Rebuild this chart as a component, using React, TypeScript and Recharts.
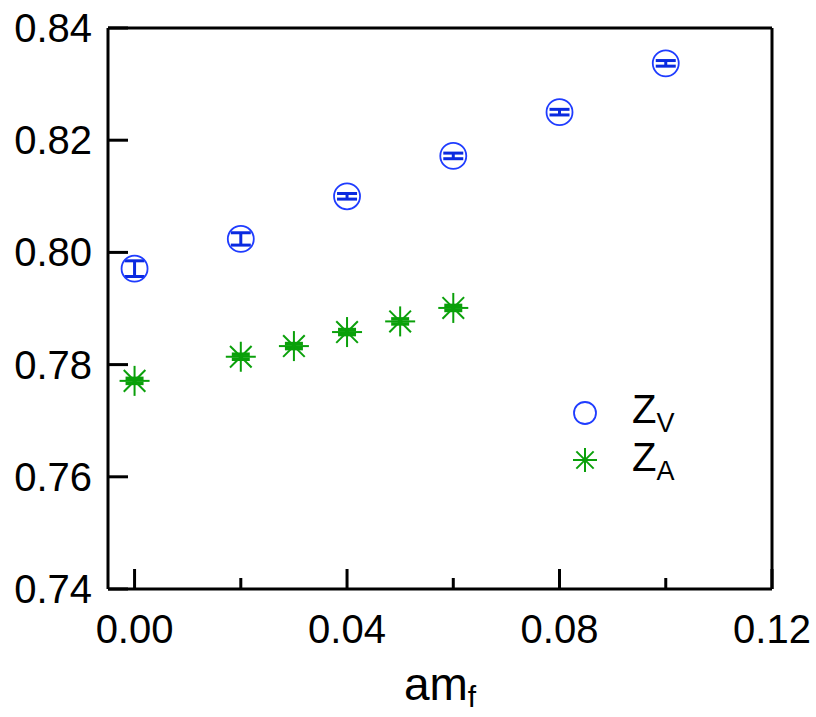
import { ErrorBar, ReferenceLine, Scatter, ScatterChart, XAxis, YAxis } from "recharts";

// Z_V (circles)
const zvX = [0, 0.02, 0.04, 0.06, 0.08, 0.1];
const zvY = [0.7971, 0.8024, 0.81, 0.8172, 0.825, 0.8337];
const zvErr = [0.0014, 0.0011, 0.0005, 0.0005, 0.0005, 0.0005];

// Z_A (stars)
const zaX = [0, 0.02, 0.03, 0.04, 0.05, 0.06];
const zaY = [0.7771, 0.7814, 0.7833, 0.7858, 0.7877, 0.7901];
const zaErr = [0.00045, 0.00045, 0.00045, 0.00045, 0.00045, 0.00045];

const xTicks = [0, 0.02, 0.04, 0.06, 0.08, 0.1, 0.12];
const xMajor = ["0.00", "0.04", "0.08", "0.12"];
const yTicks = [0.74, 0.76, 0.78, 0.8, 0.82, 0.84];
const yLabels = ["0.74", "0.76", "0.78", "0.80", "0.82", "0.84"];

const zvData = zvX.map((x, i) => ({ x, y: zvY[i], err: zvErr[i] }));
const zaData = zaX.map((x, i) => ({ x, y: zaY[i], err: zaErr[i] }));

const FONT = "'Liberation Sans', Arial, Helvetica, sans-serif";
const BLUE = "#1f3cff";
const GREEN = "#0aa00a";

const CircleMark = ({ cx, cy }: any) => (
  <circle cx={cx} cy={cy} r={13} fill="none" stroke={BLUE} strokeWidth={1.8} />
);

const StarMark = ({ cx, cy, s }: any) => {
  const r = s ?? 15;
  const d = r * 0.72;
  return (
    <g stroke={GREEN} strokeWidth={2}>
      <line x1={cx - r} y1={cy} x2={cx + r} y2={cy} />
      <line x1={cx} y1={cy - r} x2={cx} y2={cy + r} />
      <line x1={cx - d} y1={cy - d} x2={cx + d} y2={cy + d} />
      <line x1={cx - d} y1={cy + d} x2={cx + d} y2={cy - d} />
    </g>
  );
};

const XTick = ({ x, y, payload }: any) => {
  const label = xMajor.find((l) => Math.abs(parseFloat(l) - payload.value) < 1e-9);
  return (
    <g>
      <line x1={x} y1={y} x2={x} y2={y - (label ? 20 : 11)} stroke="#000" strokeWidth={3} />
      {label && (
        <text x={x} y={y + 54} textAnchor="middle" fontSize={40} fontFamily={FONT} fill="#000">
          {label}
        </text>
      )}
    </g>
  );
};

const YTick = ({ x, y, payload }: any) => {
  const idx = yTicks.findIndex((v) => Math.abs(v - payload.value) < 1e-9);
  return (
    <g>
      <line x1={x} y1={y} x2={x + 20} y2={y} stroke="#000" strokeWidth={3} />
      <text x={x - 16} y={y + 14} textAnchor="end" fontSize={40} fontFamily={FONT} fill="#000">
        {yLabels[idx]}
      </text>
    </g>
  );
};

export default function App() {
  return (
    <div style={{ position: "absolute", left: 0, top: 0, background: "#fff" }}>
      <ScatterChart width={816} height={717} margin={{ top: 28, right: 44, bottom: 0, left: 0 }}>
        <XAxis
          type="number"
          dataKey="x"
          domain={[-0.005, 0.12]}
          ticks={xTicks}
          allowDataOverflow
          height={128}
          tickSize={0}
          tickMargin={0}
          tickLine={false}
          axisLine={{ stroke: "#000", strokeWidth: 3 }}
          tick={<XTick />}
          interval={0}
        />
        <YAxis
          type="number"
          dataKey="y"
          domain={[0.74, 0.84]}
          ticks={yTicks}
          allowDataOverflow
          width={108}
          tickSize={0}
          tickMargin={0}
          tickLine={false}
          axisLine={{ stroke: "#000", strokeWidth: 3 }}
          tick={<YTick />}
          interval={0}
        />
        <ReferenceLine y={0.84} stroke="#000" strokeWidth={3} />
        <ReferenceLine x={0.12} stroke="#000" strokeWidth={3} />
        <Scatter data={zvData} shape={<CircleMark />} isAnimationActive={false}>
          <ErrorBar dataKey="err" direction="y" width={10} stroke="#0a2ae0" strokeWidth={3} />
        </Scatter>
        <Scatter data={zaData} shape={<StarMark />} isAnimationActive={false}>
          <ErrorBar dataKey="err" direction="y" width={9} stroke={GREEN} strokeWidth={3.5} />
        </Scatter>
        <g fontFamily={FONT} fill="#000">
          <circle cx={585} cy={413} r={11} fill="none" stroke={BLUE} strokeWidth={1.8} />
          <text x={632} y={423} fontSize={40}>
            Z<tspan fontSize={27} dy={9}>V</tspan>
          </text>
          <StarMark cx={585} cy={460} s={12} />
          <text x={632} y={471} fontSize={40}>
            Z<tspan fontSize={27} dy={9}>A</tspan>
          </text>
          <text x={440} y={700} fontSize={46} textAnchor="middle">
            am<tspan fontSize={30} dy={7}>f</tspan>
          </text>
        </g>
      </ScatterChart>
    </div>
  );
}
